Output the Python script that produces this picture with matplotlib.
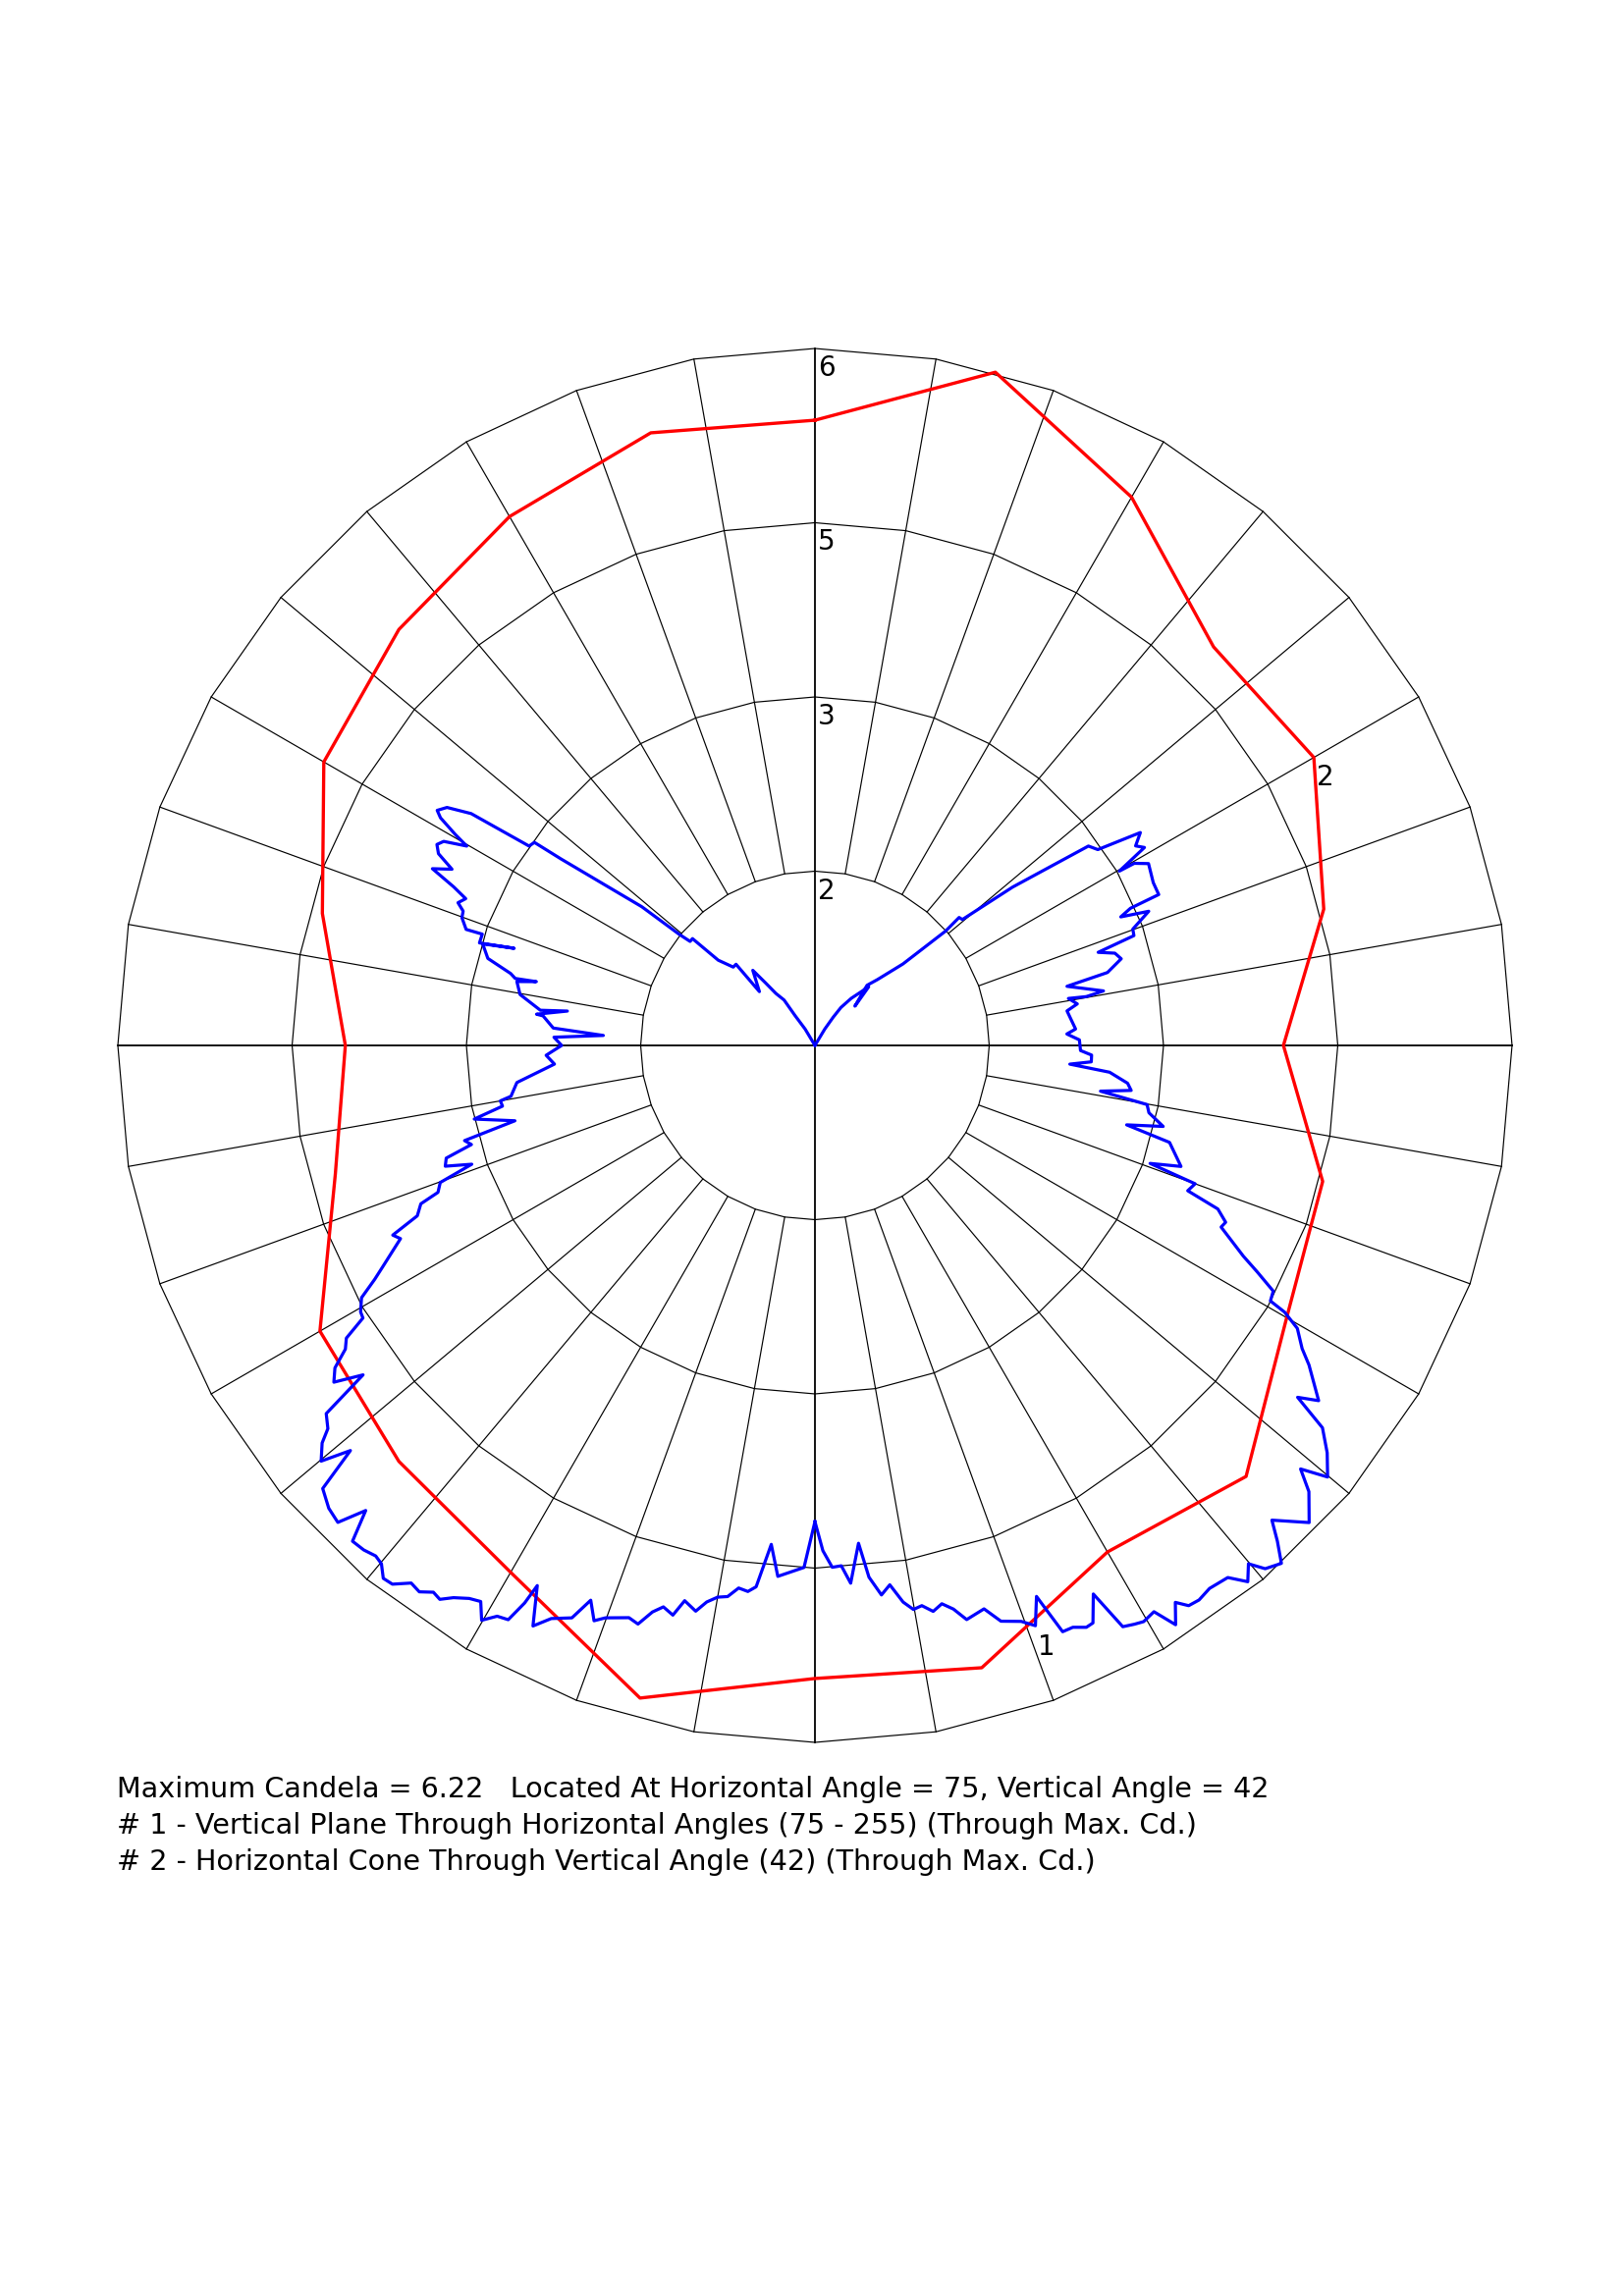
import numpy as np
import matplotlib
matplotlib.use("Agg")
import matplotlib.pyplot as plt

# ---------------- data ----------------
MAX_CD = 6.22

# Horizontal cone through vertical angle 42 (horizontal angle in degrees, candela)
cone_h_angles = [90, 75, 60, 45, 30, 15, 0, 345, 330, 315, 300, 285, 270,
                 255, 240, 225, 210, 195, 180, 165, 150, 135, 120, 105, 90]
cone_cd = [5.58, 6.22, 5.65, 5.03, 5.14, 4.70, 4.18, 4.69, 4.86, 5.44, 5.22, 5.75, 5.65,
           6.03, 5.43, 5.25, 5.10, 4.43, 4.19, 4.55, 5.06, 5.25, 5.45, 5.66, 5.58]

# Vertical plane, horizontal angle 75 (vertical angle from nadir, candela)
plane75_v = [0.0, 0.9, 1.9, 2.9, 3.8, 5.0, 5.8, 6.9, 7.9, 9.0,
             9.9, 10.8, 11.8, 12.8, 13.8, 14.8, 16.7, 17.9, 19.7, 20.8,
             21.9, 22.2, 22.9, 23.9, 25.0, 25.7, 26.9, 27.9, 28.9, 29.7,
             30.9, 31.9, 32.9, 33.7, 34.7, 36.0, 37.8, 38.9, 39.9, 40.7,
             42.0, 43.0, 43.9, 46.0, 47.9, 48.9, 49.9, 51.5, 53.0, 53.9,
             54.8, 57.1, 58.1, 59.6, 60.4, 60.7, 61.8, 62.9, 63.8, 65.9,
             66.7, 67.9, 68.7, 70.0, 70.6, 71.7, 74.7, 75.7, 76.9, 78.6,
             79.9, 80.9, 81.9, 83.1, 84.8, 85.8, 86.6, 88.0, 88.9, 91.2,
             92.6, 93.6, 97.8, 99.0, 100.5, 100.2, 100.7, 103.2, 104.0, 105.8,
             107.1, 108.2, 109.0, 110.1, 111.9, 112.8, 113.5, 113.7, 115.7, 118.6,
             119.7, 119.8, 121.0, 121.9, 123.2, 124.7, 126.1, 128.7, 130.5, 131.6,
             131.2, 132.8, 136.5, 139.1, 134.5, 137.5, 142.4, 145.6, 147.1, 149.0,
             150.0]
plane75_cd = [4.25, 4.51, 4.66, 4.65, 4.81, 4.46, 4.77, 4.94, 4.86, 5.03,
              5.11, 5.09, 5.16, 5.11, 5.18, 5.30, 5.25, 5.40, 5.46, 5.54,
              5.30, 5.41, 5.68, 5.68, 5.73, 5.72, 5.49, 5.87, 5.90, 5.92,
              5.89, 6.09, 5.92, 6.01, 6.02, 5.99, 6.01, 6.15, 6.03, 6.16,
              6.22, 6.05, 5.88, 6.13, 5.94, 5.75, 5.98, 5.84, 5.67, 5.33,
              5.50, 5.25, 5.12, 4.99, 4.82, 4.66, 4.64, 4.43, 4.26, 3.97,
              3.99, 3.88, 3.57, 3.61, 3.17, 3.44, 3.28, 2.87, 3.19, 3.04,
              3.01, 2.58, 2.85, 2.81, 2.64, 2.28, 2.47, 2.47, 2.37, 2.36,
              2.25, 2.33, 2.27, 2.37, 2.30, 2.46, 2.62, 2.31, 2.69, 2.84,
              2.80, 2.66, 3.01, 3.02, 3.21, 2.96, 3.07, 3.35, 3.35, 3.39,
              3.28, 3.13, 3.43, 3.37, 3.47, 3.07, 3.02, 2.26, 1.73, 1.72,
              1.55, 1.07, 0.81, 0.71, 0.50, 0.71, 0.53, 0.41, 0.30, 0.17,
              0.0]

# Vertical plane, horizontal angle 255
plane255_v = [0.0, 1.2, 2.5, 4.0, 5.0, 6.2, 7.0, 8.0, 9.0, 10.0,
              11.0, 11.9, 13.2, 14.0, 15.1, 16.0, 17.0, 18.0, 20.1, 21.0,
              22.0, 23.0, 24.7, 25.9, 27.2, 27.5, 28.1, 29.1, 30.1, 31.0,
              32.0, 33.2, 34.1, 34.9, 35.9, 36.9, 38.1, 39.0, 39.9, 40.7,
              41.8, 43.0, 44.0, 45.0, 46.4, 48.0, 48.9, 49.9, 51.1, 51.8,
              53.0, 53.9, 55.0, 56.1, 57.1, 58.0, 58.9, 59.6, 60.9, 62.0,
              62.9, 65.0, 65.8, 66.8, 68.1, 68.7, 69.9, 70.9, 71.9, 73.0,
              73.9, 74.8, 75.9, 77.8, 79.0, 80.0, 80.5, 82.9, 85.9, 87.9,
              90.0, 91.8, 92.7, 93.8, 96.2, 96.4, 97.9, 97.3, 99.8, 102.1,
              102.9, 102.6, 103.3, 104.9, 107.0, 107.9, 107.0, 108.5, 108.4, 109.9,
              110.9, 111.8, 112.8, 113.7, 114.8, 115.9, 117.0, 118.0, 118.8, 119.8,
              120.4, 121.3, 121.9, 122.9, 124.0, 124.9, 125.9, 126.3, 128.7, 129.3,
              129.8, 131.1, 131.4, 133.8, 135.8, 134.1, 140.4, 141.7, 143.1, 145.8,
              146.3, 149.0, 150.0]
plane255_cd = [4.25, 4.66, 4.70, 4.75, 4.47, 4.86, 4.91, 4.89, 4.98, 5.00,
               5.06, 5.16, 5.09, 5.24, 5.19, 5.26, 5.40, 5.37, 5.44, 5.50,
               5.34, 5.55, 5.63, 5.76, 5.42, 5.61, 5.81, 5.83, 5.93, 5.79,
               5.82, 5.89, 5.97, 5.95, 6.02, 6.00, 6.11, 6.12, 6.03, 6.01,
               6.04, 6.05, 5.77, 6.02, 5.99, 5.91, 5.50, 5.76, 5.65, 5.53,
               5.46, 4.99, 5.24, 5.16, 4.99, 4.93, 4.71, 4.70, 4.63, 4.45,
               4.33, 4.08, 4.13, 3.86, 3.79, 3.61, 3.56, 3.24, 3.47, 3.44,
               3.19, 3.24, 2.76, 3.11, 2.84, 2.85, 2.75, 2.68, 2.33, 2.40,
               2.26, 2.33, 1.89, 2.34, 2.44, 2.50, 2.23, 2.47, 2.67, 2.72,
               2.55, 2.74, 2.79, 3.02, 3.10, 2.82, 3.13, 3.13, 3.28, 3.35,
               3.36, 3.43, 3.38, 3.52, 3.76, 3.60, 3.77, 3.82, 3.78, 3.58,
               3.72, 3.91, 3.97, 3.91, 3.70, 3.11, 3.09, 2.81, 1.98, 1.57,
               1.45, 1.45, 1.15, 1.01, 1.01, 0.69, 0.87, 0.71, 0.58, 0.49,
               0.32, 0.17, 0.0]

ring_values = [MAX_CD * k / 4 for k in range(1, 5)]
ring_labels = ["2", "3", "5", "6"]

info_lines = [
    "Maximum Candela = 6.22   Located At Horizontal Angle = 75, Vertical Angle = 42",
    "# 1 - Vertical Plane Through Horizontal Angles (75 - 255) (Through Max. Cd.)",
    "# 2 - Horizontal Cone Through Vertical Angle (42) (Through Max. Cd.)",
]

# ---------------- figure ----------------
W, H = 1654, 2339
CX, CY, RPX = 830, 1065, 710
fig = plt.figure(figsize=(W / 100, H / 100), dpi=100)
ax = fig.add_axes([(CX - RPX) / W, (H - CY - RPX) / H, 2 * RPX / W, 2 * RPX / H],
                  projection="polar")
ax.set_ylim(0, MAX_CD)
ax.set_axis_off()

grid_c = "#000000"
th = np.radians(np.arange(0, 361, 10))
for rv in ring_values:
    ax.plot(th, [rv] * len(th), color=grid_c, lw=0.85, clip_on=False)
for a in range(0, 360, 10):
    main = a % 90 == 0
    r0 = 0 if main else ring_values[0]
    ax.plot([np.radians(a)] * 2, [r0, MAX_CD], color=grid_c,
            lw=1.3 if main else 0.85, clip_on=False)

for rv, lab in zip(ring_values, ring_labels):
    ax.annotate(lab, xy=(np.pi / 2, rv), xytext=(3, -6), textcoords="offset pixels",
                ha="left", va="top", fontsize=20, family="DejaVu Sans")

# curve 2: horizontal cone (0 deg at right, counter-clockwise)
ax.plot(np.radians(cone_h_angles), cone_cd, color="#ff0000", lw=2.4, clip_on=False)
# curve 1: vertical plane, nadir at bottom; 75 on the right, 255 on the left
ax.plot(np.radians(np.array(plane75_v) - 90), plane75_cd, color="#0000ff", lw=2.3, clip_on=False)
ax.plot(np.radians(270 - np.array(plane255_v)), plane255_cd, color="#0000ff", lw=2.3, clip_on=False)

ax.annotate("2", xy=(np.radians(30), 5.14), xytext=(3, -6), textcoords="offset pixels",
            ha="left", va="top", fontsize=20, family="DejaVu Sans")
ax.annotate("1", xy=(np.radians(-69.2), 5.61), xytext=(0, 0), textcoords="offset pixels",
            ha="left", va="top", fontsize=20, family="DejaVu Sans")

for i, t in enumerate(info_lines):
    fig.text(119 / W, 1 - (1831 + 37 * i) / H, t, fontsize=20.6, family="DejaVu Sans",
             ha="left", va="baseline")

fig.savefig("out.png", dpi=100)
